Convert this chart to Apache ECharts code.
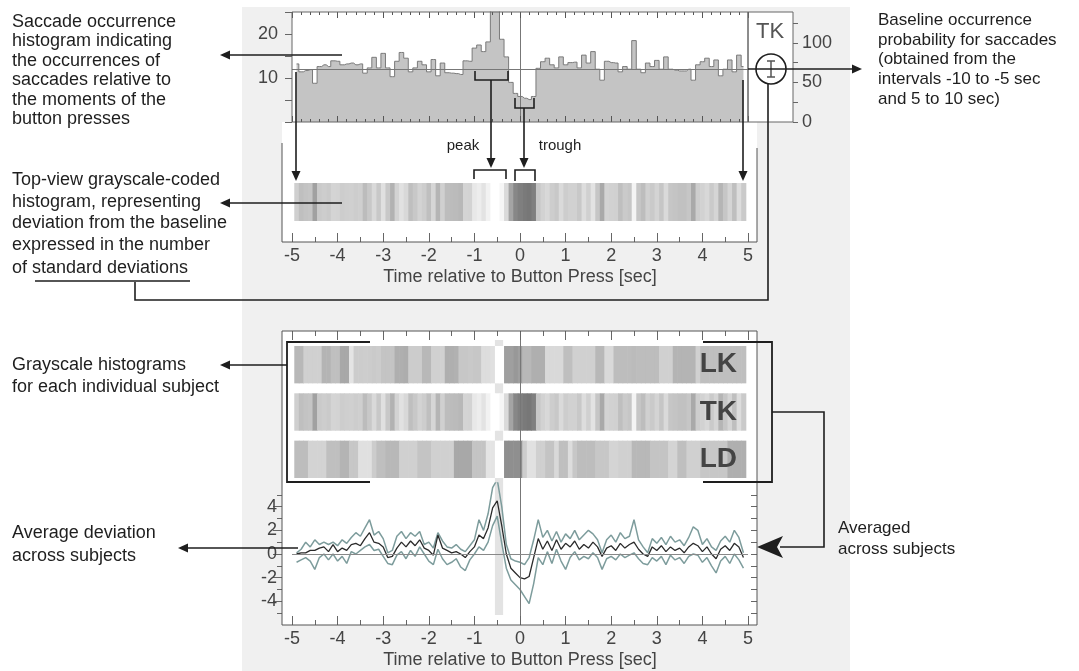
<!DOCTYPE html>
<html>
<head>
<meta charset="utf-8">
<script src="https://cdn.jsdelivr.net/npm/echarts@6/dist/echarts.min.js"></script>
<style>
html, body { margin: 0; padding: 0; background: #fff; }
#main { width: 1079px; height: 671px; }
</style>
</head>
<body>
<div id="main"></div>
<script>
// bins: centres from -4.9 s to 4.9 s, 0.1 s wide
var binStart = -4.9;
var binWidth = 0.1;

// saccade counts per bin for subject TK (top histogram)
var tkCounts = [
  13.2, 11.4, 11.7, 11.9, 8.8, 12.6, 13, 12.6, 13.9, 13.8,
  13, 13.2, 13.4, 13, 13.2, 11.1, 12.3, 14.7, 12.3, 15.6,
  12.3, 10.3, 13.8, 15.8, 14.5, 11.4, 12.3, 13.8, 13, 11.4,
  14.2, 10.5, 13.4, 11.2, 11.1, 11, 10.8, 13.9, 13.8, 16.8,
  17.5, 16, 18.2, 27, 26, 18.8, 14.8, 9, 6.5, 5.8,
  5.4, 5.1, 5.8, 12.2, 13.7, 14.5, 13, 12.3, 14.8, 13,
  13.5, 13.6, 12.3, 15.2, 13.4, 16, 12, 9.5, 13.8, 13.5,
  13.4, 11.4, 12.6, 12, 18.5, 12, 11.2, 13.4, 12.6, 14,
  12, 14.8, 12, 11.8, 11.6, 11.6, 12, 9.5, 13, 13.7,
  14.5, 12.6, 14.1, 10.5, 12, 14.1, 11.4, 15.2, 12.6
];
var baselineCount = 12;
var baselineSd = 2;

// deviation from baseline in SD units, other subjects
var lkDev = [
  -0.6, -0.6, 0.7, 0.7, 0.7, 0.7, -0.8, -0.8, -0.3, -0.3,
  -1.3, -1.3, 2.1, 0.4, 0.4, 0.5, 0.4, 0.3, 0.4, -0.1,
  -0.1, -0.1, -1.0, -1.0, -1.1, 0.4, 0.4, 0.4, -0.6, -0.6,
  0.7, 0.7, 0.8, -1.0, -1.0, -0.9, 0.1, 0.1, 0.2, 0.1,
  0.1, 1.6, 1.6, 1.8, 4, 4, -1.7, -1.7, -2.0, -1.7,
  -0.6, -0.6, -1.0, -1.0, -1.0, 1.3, 1.3, 1.3, 1.3, -0.3,
  -0.3, 0.7, 0.7, 0.7, 0.7, 0.7, -0.6, -0.6, 1.3, 1.3,
  -0.4, -0.4, -0.4, -0.4, -0.5, -0.4, -0.4, -0.4, -0.4, -0.4,
  0.7, 0.7, 0.7, -0.8, -0.8, -0.8, -0.8, -0.8, 0.7, -0.3,
  -0.3, -0.3, -0.3, -0.3, -0.3, -0.3, -0.3, -0.3, -0.3
];
var ldDev = [
  -0.4, -0.4, -0.4, 0.9, 0.9, 0.9, 0.9, -0.3, -0.3, -0.3,
  -0.8, -0.8, 0.1, 0.1, 1.8, 1.8, 1.8, 0.4, -0.3, -0.3,
  -0.6, -0.6, -0.6, 0.7, 0.7, 0.7, 0.7, -0.1, -0.1, -0.1,
  0.7, 0.7, 0.7, 0.7, 0.7, -1.3, -1.3, -1.3, -1.3, -0.1,
  -0.1, -0.1, 2.1, 2.1, 4, 4, -2.4, -2.4, -2.4, -2.4,
  0.5, 1.9, 1.9, 0.7, 0.7, -0.1, -0.1, 1.3, -0.3, -0.3,
  1.6, 0.1, -0.4, -0.4, -0.4, -0.4, 0.1, 0.1, 0.1, 1.0,
  1.0, 0.7, 0.7, 0.7, -0.6, -0.6, -0.6, -0.6, -0.1, -0.1,
  -0.1, -0.1, 1.0, 1.0, -0.3, -0.3, 0.7, 0.7, 0.7, 0.1,
  0.1, 0.1, 0.1, 0.1, 0.1, -1.0, -1.0, -1.0, -1.0
];

// average deviation across subjects and its upper / lower band
var avgDev = [
  0.0, 0.1, 0.1, 0.3, 0.3, 0.5, 0.6, 0.2, 0.8, 0.2,
  0.5, 0.3, 0.8, 0.9, 0.7, 1.3, 1.8, 1.0, 0.9, 0.6,
  -0.3, -0.2, 0.5, 1.0, 0.6, 1.1, 0.7, 1.2, 0.5, 0.3,
  -0.1, 1.6, 0.5, 0.3, 0.1, 0.2, 0.0, -0.3, 0.2, 0.6,
  1.6, 1.3, 2.2, 3.9, 4.5, 2.4, 0.0, -1.2, -1.6, -2.0,
  -2.1, -1.9, -0.3, 1.3, 0.4, 1.1, 0.3, 1.2, 0.4, 0.9,
  0.6, 1.1, 0.4, 0.8, 0.5, 1.0, 0.6, -0.2, 0.5, 0.7,
  0.3, 0.9, 0.5, 0.8, 1.0, 0.4, 0.0, -0.2, 0.6, 0.3,
  0.7, 0.2, 0.6, 0.3, 0.5, 0.1, 0.6, 0.9, 0.7, 0.2,
  0.6, 0.0, -0.4, 0.4, 0.7, 0.3, 0.9, 0.6, -0.3
];
var avgHigh = [
  0.1, 0.4, 1.0, 0.6, 1.2, 0.8, 1.0, 0.8, 1.0, 0.7,
  1.2, 0.9, 1.4, 1.8, 1.5, 2.2, 2.9, 1.6, 1.9, 1.3,
  0.1, 0.3, 1.5, 1.9, 1.3, 1.8, 1.5, 1.9, 0.8, 1.0,
  0.5, 1.8, 1.1, 0.6, 0.5, 0.8, 0.4, 0.2, 0.7, 1.2,
  2.9, 2.0, 3.4, 5.6, 6.3, 4.0, 0.8, -0.4, -0.6, -0.7,
  -0.9, -0.3, 1.2, 2.9, 1.4, 2.0, 1.1, 1.9, 1.0, 1.7,
  1.3, 2.0, 1.2, 1.6, 2.0, 1.7, 1.2, 0.1, 1.2, 1.6,
  1.0, 1.8, 1.3, 1.5, 2.9, 1.2, 0.6, 0.1, 1.3, 0.9,
  1.4, 0.8, 1.5, 1.0, 1.2, 0.7, 1.4, 2.3, 2.0, 0.8,
  1.3, 0.6, 0.3, 1.1, 1.5, 1.0, 2.0, 1.4, 0.1
];
var avgLow = [
  -0.7, -0.5, -0.3, -0.6, -1.3, -0.3, 0.0, -0.5, 0.0, -0.6,
  -0.2, -0.8, 0.2, 0.0, 0.3, 0.6, 0.8, 0.3, 0.4, -0.2,
  -0.8, -0.9, -0.1, 0.2, -0.4, 0.3, -0.2, 0.6, 0.0, -0.6,
  -0.9, 0.4, -0.4, -0.9, -0.7, -0.4, -1.1, -1.4, -0.5, 0.0,
  0.6, 0.3, 1.0, 2.4, 3.2, 0.9, -1.2, -2.2, -2.6, -3.0,
  -3.6, -4.2, -2.5, -0.3, -0.9, 0.2, -0.8, 0.4, -0.6, -1.3,
  -0.3, 0.2, -0.5, -0.2, -0.4, 0.1, -0.3, -1.3, -0.4, -0.2,
  -0.5, 0.0, -0.3, -0.1, 0.1, -0.4, -0.8, -0.9, -0.3, -0.6,
  -0.2, -0.9, -0.1, -0.5, -0.3, -0.8, -0.2, 0.0, -0.1, -0.7,
  -0.3, -1.0, -1.6, -0.6, -0.2, -0.8, 0.0, -0.5, -1.2
];

var peakWindow = [-0.55, -0.37];
var subjects = ['LK', 'TK', 'LD'];

// tick labels
var timeTicks = [-5, -4, -3, -2, -1, 0, 1, 2, 3, 4, 5];
var countTicks = [10, 20];
var probTicks = [0, 50, 100];
var probTickMarks = [0, 25, 50, 75, 100, 125];
var devTicks = [-4, -2, 0, 2, 4];
var devTickMarks = [-5, -4, -3, -2, -1, 0, 1, 2, 3, 4, 5];

var FONT = '"Liberation Sans", Arial, Helvetica, sans-serif';
var INK = '#1e1e1e';
var AXIS = '#444';
var FRAME = '#666';

function binT(i) { return Math.round((binStart + i * binWidth) * 10) / 10; }
function pairs(vals) { return vals.map(function (v, i) { return [binT(i), v]; }); }
function cells(vals, row) {
  return vals.map(function (z, i) { return [binT(i), row, Math.max(-4, Math.min(4, z))]; });
}
var tkDev = tkCounts.map(function (c) { return (c - baselineCount) / baselineSd; });

function stripItem(frac) {
  return function (params, api) {
    var t = api.value(0), row = api.value(1);
    var a = api.coord([t - binWidth / 2, row]);
    var b = api.coord([t + binWidth / 2, row]);
    var h = api.size([0, 1])[1] * frac;
    return {
      type: 'rect',
      shape: { x: a[0], y: a[1] - h / 2, width: b[0] - a[0] + 0.6, height: h },
      style: { fill: api.visual('color') }
    };
  };
}

var noLine = { show: false, onZero: false };

function timeAxis(gridIndex, position, extra) {
  var ax = {
    type: 'value', gridIndex: gridIndex, position: position, min: -5, max: 5, interval: 1, z: 10,
    axisLine: noLine, splitLine: { show: false },
    axisTick: { show: true, inside: true, length: 9, lineStyle: { color: FRAME } },
    minorTick: { show: true, splitNumber: 2, length: 5, lineStyle: { color: FRAME } },
    axisLabel: { show: false }
  };
  for (var k in extra) ax[k] = extra[k];
  return ax;
}
var labelStyle = { show: true, customValues: timeTicks, fontSize: 18, color: AXIS, fontFamily: FONT, margin: 5 };
var nameStyle = { fontSize: 18, color: AXIS, fontFamily: FONT };
var histTick = { show: true, inside: true, length: 6, lineStyle: { color: '#555' } };
var histMinor = { show: true, splitNumber: 5, length: 3, lineStyle: { color: '#555' } };

// ---------- annotation helpers ----------
var els = [];
function rect(x, y, w, h, fill, stroke, z) {
  els.push({ type: 'rect', silent: true, z: z, shape: { x: x, y: y, width: w, height: h },
    style: { fill: fill || null, stroke: stroke || null, lineWidth: 1 } });
}
function line(pts, w, color) {
  els.push({ type: 'polyline', silent: true, z: 40, shape: { points: pts },
    style: { stroke: color || INK, lineWidth: w || 1.6, fill: null } });
}
function head(x, y, dir, len, half) {
  len = len || 10; half = half || 4.5;
  var p;
  if (dir === 'left') p = [[x, y], [x + len, y - half], [x + len, y + half]];
  else if (dir === 'right') p = [[x, y], [x - len, y - half], [x - len, y + half]];
  else p = [[x, y], [x - half, y - len], [x + half, y - len]];
  els.push({ type: 'polygon', silent: true, z: 41, shape: { points: p }, style: { fill: INK } });
}
function text(x, y, s, size, opts) {
  opts = opts || {};
  els.push({ type: 'text', silent: true, z: 45, x: x, y: y,
    style: { text: s, font: (opts.bold ? 'bold ' : '') + size + 'px ' + FONT,
      fill: opts.color || INK, align: opts.align || 'left', verticalAlign: 'middle',
      textAlign: opts.align || 'left', textVerticalAlign: 'middle' } });
}

// backgrounds
rect(242, 7, 608, 664, '#f0f0f0', null, -6);
rect(292, 12, 501, 110, '#ffffff', null, -5);
rect(282, 122, 475, 120, '#ffffff', null, -5);
rect(282, 331, 475, 294, '#ffffff', null, -5);
// frames
rect(292, 12, 456, 110, null, FRAME, 30);
rect(748, 12, 45, 110, null, FRAME, 30);
rect(282, 331, 475, 294, null, '#555', 30);
line([[282, 143], [282, 242], [757, 242], [757, 148]], 1, '#555');

// TK box: baseline circle with error bar
text(770, 32, 'TK', 22, { color: '#555', align: 'center' });
els.push({ type: 'circle', silent: true, z: 40, shape: { cx: 771, cy: 69, r: 15 },
  style: { fill: null, stroke: INK, lineWidth: 1.6 } });
line([[771, 61], [771, 77]], 1.5, '#555');
line([[767, 61], [775, 61]], 1.5, '#555');
line([[767, 77], [775, 77]], 1.5, '#555');
line([[748, 69], [854, 69]], 1.6);
head(862, 69, 'right');
// circle down to "standard deviations"
line([[768, 84], [768, 300], [135, 300], [135, 282]], 1.6);
line([[35, 281], [190, 281]], 1.4);

// left explanations, top
line([[342, 55], [228, 55]], 1.6); head(220, 55, 'left');
line([[342, 203], [228, 203]], 1.6); head(220, 203, 'left');
// histogram -> strip arrows
line([[296, 72], [296, 171]], 1.6); head(296, 181, 'down');
line([[743, 80], [743, 171]], 1.6); head(743, 181, 'down');
// peak / trough brackets
line([[475, 71], [475, 80], [508, 80], [508, 71]], 1.6);
line([[491, 80], [491, 158]], 1.6); head(491, 168, 'down');
line([[474, 179], [474, 170], [506, 170], [506, 179]], 1.6);
line([[515, 98], [515, 108], [534, 108], [534, 98]], 1.6);
line([[524, 108], [524, 158]], 1.6); head(524, 168, 'down');
line([[515, 181], [515, 170], [535, 170], [535, 181]], 1.6);
text(463, 146, 'peak', 15, { align: 'center' });
text(560, 146, 'trough', 15, { align: 'center' });

// bottom brackets
line([[370, 342], [287, 342], [287, 482], [370, 482]], 1.8);
line([[287, 365], [228, 365]], 1.6); head(220, 365, 'left');
line([[703, 342], [772, 342], [772, 482], [703, 482]], 1.8);
line([[772, 412], [824, 412], [824, 547], [780, 547]], 1.6);
els.push({ type: 'polygon', silent: true, z: 41,
  shape: { points: [[757, 547], [783, 536], [777, 547], [783, 558]] }, style: { fill: INK } });
line([[298, 548], [186, 548]], 1.6); head(178, 548, 'left');

// strip labels
text(737, 364, 'LK', 28, { bold: true, color: '#444', align: 'right' });
text(737, 412, 'TK', 28, { bold: true, color: '#444', align: 'right' });
text(737, 459, 'LD', 28, { bold: true, color: '#444', align: 'right' });

// texts
[['Saccade occurrence', 22], ['histogram indicating', 41.5], ['the occurrences of', 61],
 ['saccades relative to', 80.5], ['the moments of the', 100], ['button presses', 119.5],
 ['Top-view grayscale-coded', 180], ['histogram, representing', 202], ['deviation from the baseline', 223.5],
 ['expressed in the number', 245.5], ['of standard deviations', 268],
 ['Grayscale histograms', 365], ['for each individual subject', 387],
 ['Average deviation', 533], ['across subjects', 556]
].forEach(function (r) { text(12, r[1], r[0], 18); });
[['Baseline occurrence', 20], ['probability for saccades', 40], ['(obtained from the', 59.5],
 ['intervals -10 to -5 sec', 79], ['and 5 to 10 sec)', 99]
].forEach(function (r) { text(878, r[1], r[0], 17); });
text(838, 528, 'Averaged', 17);
text(838, 549, 'across subjects', 17);

var option = {
  animation: false,
  backgroundColor: '#ffffff',
  textStyle: { fontFamily: FONT },
  grid: [
    { left: 292, top: 12, width: 456, height: 110, outerBoundsMode: 'none' },
    { left: 292, top: 183, width: 456, height: 38, outerBoundsMode: 'none' },
    { left: 292, top: 341, width: 456, height: 142, outerBoundsMode: 'none' },
    { left: 292, top: 483, width: 456, height: 142, outerBoundsMode: 'none' },
    { left: 292, top: 331, width: 456, height: 294, outerBoundsMode: 'none' },
    { left: 292, top: 340, width: 456, height: 275, outerBoundsMode: 'none' }
  ],
  xAxis: [
    timeAxis(0, 'bottom', { axisTick: histTick, minorTick: histMinor }),
    timeAxis(0, 'top', { axisTick: histTick, minorTick: histMinor }),
    timeAxis(1, 'bottom', { offset: 21, axisLabel: labelStyle,
      name: 'Time relative to Button Press [sec]', nameLocation: 'middle', nameGap: 26,
      nameTextStyle: nameStyle, nameMoveOverlap: false }),
    timeAxis(2, 'top', { offset: 10 }),
    timeAxis(3, 'bottom', { axisLabel: labelStyle,
      name: 'Time relative to Button Press [sec]', nameLocation: 'middle', nameGap: 26,
      nameTextStyle: nameStyle, nameMoveOverlap: false }),
    { type: 'value', gridIndex: 4, min: -5, max: 5, show: false, axisLine: noLine },
    { type: 'value', gridIndex: 5, min: -5, max: 5, show: false, axisLine: noLine }
  ],
  yAxis: [
    { type: 'value', gridIndex: 0, position: 'left', min: 0, max: 25, interval: 5, z: 10,
      axisLine: noLine, splitLine: { show: false },
      axisTick: { show: true, length: 7, lineStyle: { color: FRAME } },
      axisLabel: { customValues: countTicks, fontSize: 18, color: AXIS, fontFamily: FONT, margin: 14 } },
    { type: 'value', gridIndex: 0, position: 'right', offset: 45, min: 0, max: 139, interval: 25, z: 10,
      axisLine: noLine, splitLine: { show: false },
      axisTick: { show: true, length: 5, customValues: probTickMarks, lineStyle: { color: FRAME } },
      axisLabel: { customValues: probTicks, fontSize: 18, color: AXIS, fontFamily: FONT, margin: 9 } },
    { type: 'category', gridIndex: 1, data: ['TK'], show: false, axisLine: noLine },
    { type: 'category', gridIndex: 2, data: subjects, inverse: true, show: false, axisLine: noLine },
    { type: 'value', gridIndex: 3, position: 'left', min: -6, max: 6, interval: 2, offset: 10, z: 10,
      axisLine: noLine, splitLine: { show: false },
      axisTick: { show: true, length: 9, customValues: devTicks, lineStyle: { color: FRAME } },
      minorTick: { show: true, splitNumber: 2, length: 5, lineStyle: { color: FRAME } },
      axisLabel: { customValues: devTicks, fontSize: 18, color: AXIS, fontFamily: FONT, margin: 5 } },
    { type: 'value', gridIndex: 3, position: 'right', offset: 9, min: -6, max: 6, z: 10,
      axisLine: noLine, splitLine: { show: false },
      axisTick: { show: true, inside: true, length: 6, customValues: devTickMarks, lineStyle: { color: FRAME } },
      axisLabel: { show: false } },
    { type: 'value', gridIndex: 4, min: 0, max: 1, show: false, axisLine: noLine },
    { type: 'value', gridIndex: 5, min: 0, max: 1, show: false, axisLine: noLine }
  ],
  visualMap: {
    show: false, type: 'continuous', dimension: 2, seriesIndex: [1, 2], min: -4, max: 4,
    inRange: { color: ['#6a6a6a', '#c6c6c6', '#ffffff'] }
  },
  series: [
    { type: 'line', xAxisIndex: 0, yAxisIndex: 0, data: pairs(tkCounts), step: 'middle',
      symbol: 'none', z: 2, lineStyle: { color: '#7a7a7a', width: 1 },
      areaStyle: { color: '#c4c4c4', opacity: 1 },
      markLine: { silent: true, symbol: ['none', 'none'], label: { show: false },
        lineStyle: { color: '#777', width: 1, type: 'solid' },
        data: [{ xAxis: 0 }, { yAxis: baselineCount }] } },
    { type: 'custom', xAxisIndex: 2, yAxisIndex: 2, data: cells(tkDev, 0),
      renderItem: stripItem(1), z: 2 },
    { type: 'custom', xAxisIndex: 3, yAxisIndex: 3,
      data: cells(lkDev, 0).concat(cells(tkDev, 1), cells(ldDev, 2)),
      renderItem: stripItem(0.79), z: 2 },
    { type: 'line', xAxisIndex: 6, yAxisIndex: 7, data: [[0, 0.5]], symbol: 'none',
      lineStyle: { opacity: 0 }, z: 1,
      markArea: { silent: true, itemStyle: { color: '#e3e3e3' },
        data: [[{ xAxis: peakWindow[0] }, { xAxis: peakWindow[1] }]] } },
    { type: 'line', xAxisIndex: 5, yAxisIndex: 6, data: [[0, 0.5]], symbol: 'none',
      lineStyle: { opacity: 0 }, z: 5,
      markLine: { silent: true, symbol: ['none', 'none'], label: { show: false },
        lineStyle: { color: '#777', width: 1, type: 'solid' }, data: [{ xAxis: 0 }] } },
    { type: 'line', xAxisIndex: 4, yAxisIndex: 4, data: pairs(avgLow), symbol: 'none', z: 3,
      lineStyle: { color: '#7d9c9c', width: 1.5 } },
    { type: 'line', xAxisIndex: 4, yAxisIndex: 4, data: pairs(avgHigh), symbol: 'none', z: 3,
      lineStyle: { color: '#7d9c9c', width: 1.5 } },
    { type: 'line', xAxisIndex: 4, yAxisIndex: 4, data: pairs(avgDev), symbol: 'none', z: 4,
      lineStyle: { color: '#2a2a2a', width: 1.3 },
      markLine: { silent: true, symbol: ['none', 'none'], label: { show: false },
        lineStyle: { color: '#888', width: 1, type: 'solid' }, data: [{ yAxis: 0 }] } }
  ],
  graphic: { elements: els }
};

var chart = echarts.init(document.getElementById('main'));
chart.setOption(option);
</script>
</body>
</html>
